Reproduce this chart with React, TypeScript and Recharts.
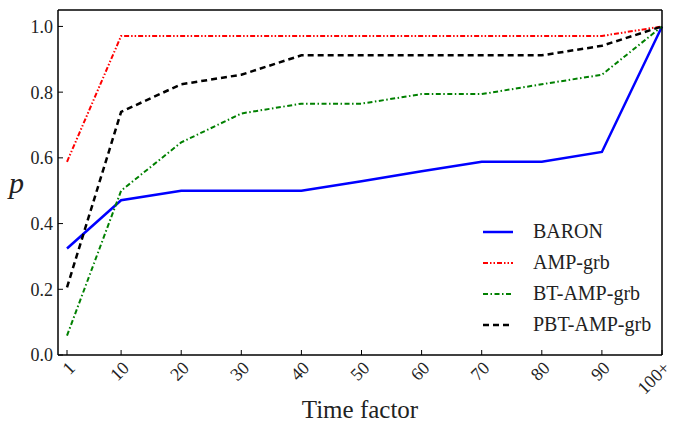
import React from 'react';
import { LineChart, Line, XAxis, YAxis, Legend, Label } from 'recharts';

// share of instances solved within a given time factor
const timeFactors = [1, 10, 20, 30, 40, 50, 60, 70, 80, 90, 100];
const tickLabels = ['1', '10', '20', '30', '40', '50', '60', '70', '80', '90', '100+'];
const baron = [0.324, 0.471, 0.5, 0.5, 0.5, 0.529, 0.559, 0.588, 0.588, 0.618, 1.0];
const ampGrb = [0.588, 0.971, 0.971, 0.971, 0.971, 0.971, 0.971, 0.971, 0.971, 0.971, 1.0];
const btAmpGrb = [0.059, 0.5, 0.647, 0.735, 0.765, 0.765, 0.794, 0.794, 0.824, 0.853, 1.0];
const pbtAmpGrb = [0.206, 0.74, 0.824, 0.853, 0.912, 0.912, 0.912, 0.912, 0.912, 0.941, 1.0];
const yTicks = [0, 0.2, 0.4, 0.6, 0.8, 1.0];

const data = timeFactors.map((t, i) => ({
  t,
  baron: baron[i],
  amp: ampGrb[i],
  bt: btAmpGrb[i],
  pbt: pbtAmpGrb[i],
}));

const FONT = 'Liberation Serif';
const INK = '#222';

const series = [
  { key: 'baron', name: 'BARON', color: '#0000ff', width: 2.5, dash: undefined },
  { key: 'amp', name: 'AMP-grb', color: '#ff0000', width: 2, dash: '5 2 1.5 2 1.5 2' },
  { key: 'bt', name: 'BT-AMP-grb', color: '#008000', width: 2, dash: '5 2.5 1.5 2.5' },
  { key: 'pbt', name: 'PBT-AMP-grb', color: '#000000', width: 2.5, dash: '6 4' },
];

const renderLegend = () => (
  <div style={{ fontFamily: FONT, fontSize: 20, color: INK }}>
    {series.map((s) => (
      <div key={s.key} style={{ display: 'flex', alignItems: 'center', height: 31 }}>
        <svg width={30} height={10}>
          <line x1={0} y1={5} x2={30} y2={5} stroke={s.color} strokeWidth={s.width} strokeDasharray={s.dash} />
        </svg>
        <span style={{ marginLeft: 20 }}>{s.name}</span>
      </div>
    ))}
  </div>
);

export default function App() {
  const tickStyle = { fontSize: 18, fill: INK, fontFamily: FONT };
  return (
    <div style={{ position: 'absolute', left: 0, top: 0, fontFamily: FONT }}>
      <LineChart width={678} height={426} data={data} margin={{ top: 9, right: 15, left: 8, bottom: 0 }} style={{ fontFamily: FONT }}>
        <XAxis
          dataKey="t"
          type="number"
          domain={[-0.5, 100]}
          ticks={timeFactors}
          tickFormatter={(v) => tickLabels[timeFactors.indexOf(v)]}
          interval={0}
          height={71}
          tickSize={-5}
          tickMargin={10}
          axisLine={{ stroke: '#000', strokeWidth: 1.5 }}
          tickLine={{ stroke: '#000' }}
          tick={{ ...tickStyle, angle: -45, textAnchor: 'end' }}
        >
          <Label value="Time factor" position="insideBottom" offset={8} style={{ fontSize: 25, fill: INK, fontFamily: FONT }} />
        </XAxis>
        <XAxis
          xAxisId="top"
          orientation="top"
          dataKey="t"
          type="number"
          domain={[-0.5, 100]}
          ticks={timeFactors}
          height={1}
          tickSize={-5}
          tick={false}
          axisLine={{ stroke: '#000', strokeWidth: 1.5 }}
          tickLine={{ stroke: '#000' }}
        />
        <YAxis
          domain={[0, 1.05]}
          ticks={yTicks}
          tickFormatter={(v) => v.toFixed(1)}
          width={50}
          tickSize={-5}
          tickMargin={10}
          axisLine={{ stroke: '#000', strokeWidth: 1.5 }}
          tickLine={{ stroke: '#000' }}
          tick={tickStyle}
        >
          <Label value="p" position="insideLeft" offset={1} angle={0} style={{ fontSize: 30, fontStyle: 'italic', fill: INK, fontFamily: FONT }} />
        </YAxis>
        <YAxis
          yAxisId="right"
          orientation="right"
          domain={[0, 1.05]}
          ticks={yTicks}
          width={1}
          tickSize={-5}
          tick={false}
          axisLine={{ stroke: '#000', strokeWidth: 1.5 }}
          tickLine={{ stroke: '#000' }}
        />
        <Legend
          layout="vertical"
          align="center"
          verticalAlign="middle"
          content={renderLegend}
          wrapperStyle={{ left: 483, top: 216, width: 190 }}
        />
        {series.map((s) => (
          <Line
            key={s.key}
            dataKey={s.key}
            name={s.name}
            type="linear"
            stroke={s.color}
            strokeWidth={s.width}
            strokeDasharray={s.dash}
            dot={false}
            isAnimationActive={false}
          />
        ))}
      </LineChart>
    </div>
  );
}
